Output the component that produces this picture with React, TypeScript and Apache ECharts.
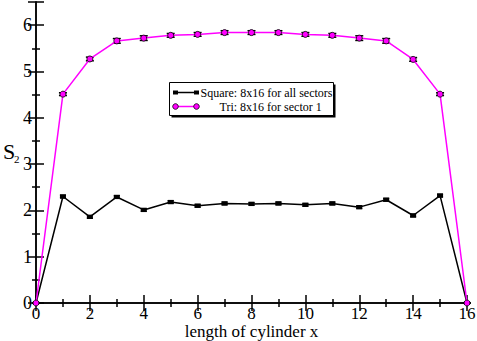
import React, { useEffect, useRef } from "react";
import * as echarts from "echarts";

const xValues = [0, 1, 2, 3, 4, 5, 6, 7, 8, 9, 10, 11, 12, 13, 14, 15, 16];
const squareValues = [0, 2.3, 1.86, 2.29, 2.01, 2.18, 2.1, 2.15, 2.14, 2.15, 2.12, 2.15, 2.07, 2.23, 1.89, 2.32, 0];
const squareErrors = [0, 0.03, 0.03, 0.03, 0.03, 0.03, 0.03, 0.03, 0.03, 0.03, 0.03, 0.03, 0.03, 0.03, 0.03, 0.03, 0];
const triValues = [0, 4.51, 5.27, 5.66, 5.72, 5.78, 5.8, 5.84, 5.84, 5.84, 5.8, 5.78, 5.72, 5.66, 5.26, 4.51, 0];
const triErrors = [0, 0.03, 0.04, 0.05, 0.05, 0.04, 0.04, 0.04, 0.04, 0.04, 0.04, 0.04, 0.05, 0.05, 0.04, 0.03, 0];
const seriesNames = ["Square: 8x16 for all sectors", "Tri: 8x16 for sector 1"];
const xAxisTitle = "length of cylinder x";

const FONT = "'Liberation Serif', 'DejaVu Serif', serif";

function errItem(capHalf: number) {
  return (params: any, api: any) => {
    const x = api.value(0);
    const lo = api.coord([x, api.value(1)]);
    const hi = api.coord([x, api.value(2)]);
    const st = { stroke: "#000", lineWidth: 1.5 };
    return {
      type: "group",
      children: [
        { type: "line", shape: { x1: lo[0], y1: lo[1], x2: hi[0], y2: hi[1] }, style: st },
        { type: "line", shape: { x1: lo[0] - capHalf, y1: lo[1], x2: lo[0] + capHalf, y2: lo[1] }, style: st },
        { type: "line", shape: { x1: hi[0] - capHalf, y1: hi[1], x2: hi[0] + capHalf, y2: hi[1] }, style: st },
      ],
    };
  };
}

export default function App() {
  const ref = useRef<HTMLDivElement>(null);
  useEffect(() => {
    const chart = echarts.init(ref.current!, null, { renderer: "svg" });
    const sqData = xValues.map((x, i) => [x, squareValues[i]]);
    const trData = xValues.map((x, i) => [x, triValues[i]]);
    const sqErr = xValues.map((x, i) => [x, squareValues[i] - squareErrors[i], squareValues[i] + squareErrors[i]]);
    const trErr = xValues.map((x, i) => [x, triValues[i] - triErrors[i], triValues[i] + triErrors[i]]);
    const axisLine = { show: true, lineStyle: { color: "#000", width: 1.5 } };
    const lbl = { color: "#000", fontSize: 18, fontFamily: FONT };
    const tick = { show: true, inside: true, length: 8, lineStyle: { color: "#000", width: 1.5 } };
    const minor = { show: true, splitNumber: 2, length: 4, lineStyle: { color: "#000", width: 1.5 } };
    const legX = 169, legY = 82;
    chart.setOption({
      animation: false,
      backgroundColor: "#fff",
      grid: { left: 36, right: 10, top: 2, bottom: 38, containLabel: false, outerBoundsMode: "none" },
      xAxis: [
        {
          type: "value", min: 0, max: 16, interval: 2, position: "bottom",
          axisLine, axisTick: tick, minorTick: minor, splitLine: { show: false },
          axisLabel: { ...lbl, fontSize: 17, margin: 2, lineHeight: 17 },
          name: xAxisTitle, nameLocation: "middle", nameGap: 20, nameMoveOverlap: false,
          nameTextStyle: { color: "#000", fontSize: 17, fontFamily: FONT, lineHeight: 17 },
        },
        {
          type: "value", min: 0, max: 16, interval: 2, position: "top",
          axisLine, axisTick: tick, minorTick: minor, splitLine: { show: false },
          axisLabel: { show: false },
        },
      ],
      yAxis: [
        {
          type: "value", min: 0, max: 6.5, interval: 1, position: "left",
          axisLine, axisTick: tick, minorTick: minor, splitLine: { show: false },
          axisLabel: { ...lbl, margin: 4, showMaxLabel: false },
        },
        {
          type: "value", min: 0, max: 6.5, interval: 1, position: "right",
          axisLine, axisTick: tick, minorTick: minor, splitLine: { show: false },
          axisLabel: { show: false },
        },
      ],
      series: [
        {
          type: "custom", name: "sqErr", renderItem: errItem(3), data: sqErr,
          encode: { x: 0, y: [1, 2] }, z: 2, silent: true,
        },
        {
          type: "custom", name: "trErr", renderItem: errItem(4), data: trErr,
          encode: { x: 0, y: [1, 2] }, z: 2, silent: true,
        },
        {
          type: "line", name: seriesNames[0], data: sqData, z: 3,
          lineStyle: { color: "#000", width: 1.5 },
          itemStyle: { color: "#000" },
          symbol: "rect", symbolSize: [6, 4], showAllSymbol: true,
        },
        {
          type: "line", name: seriesNames[1], data: trData, z: 3,
          lineStyle: { color: "#ff00ff", width: 1.5 },
          itemStyle: { color: "#ff00ff", borderColor: "#000", borderWidth: 0.8 },
          symbol: "circle", symbolSize: 6, showAllSymbol: true,
        },
      ],
      graphic: [
        { type: "text", left: 3, top: 140, style: { text: "S", fontSize: 22, fontFamily: FONT, fill: "#000" } },
        { type: "text", left: 14, top: 153, style: { text: "2", fontSize: 11, fontFamily: FONT, fill: "#000" } },
        {
          type: "group", left: legX, top: legY,
          children: [
            { type: "rect", shape: { x: 2, y: 2, width: 164, height: 33 }, style: { fill: "#000" } },
            { type: "rect", shape: { x: 0, y: 0, width: 164, height: 33 }, style: { fill: "#fff", stroke: "#000", lineWidth: 1 } },
            { type: "line", shape: { x1: 6, y1: 10, x2: 27, y2: 10 }, style: { stroke: "#000", lineWidth: 1.5 } },
            { type: "rect", shape: { x: 3.5, y: 8, width: 5, height: 4 }, style: { fill: "#000" } },
            { type: "rect", shape: { x: 24.5, y: 8, width: 5, height: 4 }, style: { fill: "#000" } },
            { type: "line", shape: { x1: 6, y1: 24, x2: 27, y2: 24 }, style: { stroke: "#ff00ff", lineWidth: 1.5 } },
            { type: "circle", shape: { cx: 6, cy: 24, r: 2.8 }, style: { fill: "#ff00ff", stroke: "#000", lineWidth: 0.8 } },
            { type: "circle", shape: { cx: 27, cy: 24, r: 2.8 }, style: { fill: "#ff00ff", stroke: "#000", lineWidth: 0.8 } },
            { type: "text", x: 31, y: 10, style: { text: seriesNames[0], fontSize: 12, fontFamily: FONT, fill: "#000", verticalAlign: "middle" } },
            { type: "text", x: 50, y: 24, style: { text: seriesNames[1], fontSize: 12, fontFamily: FONT, fill: "#000", verticalAlign: "middle" } },
          ],
        },
      ],
    });
    return () => chart.dispose();
  }, []);
  return <div ref={ref} style={{ width: 477, height: 341, position: "absolute", left: 0, top: 0 }} />;
}
